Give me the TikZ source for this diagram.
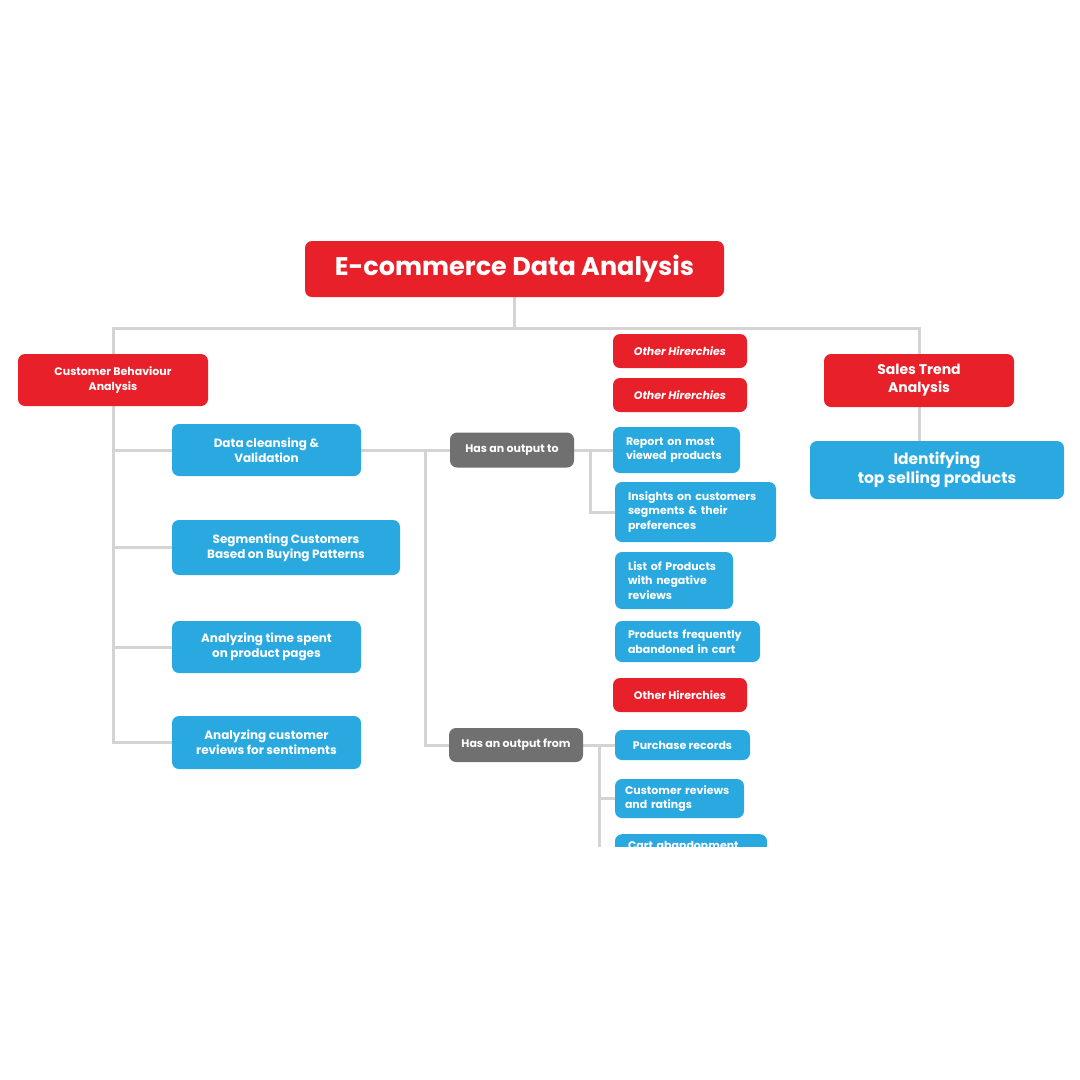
\documentclass[tikz,border=0pt]{standalone}
\usepackage{fontspec}
\setmainfont{Poppins}
\usetikzlibrary{backgrounds}
\definecolor{myred}{HTML}{E8202A}
\definecolor{myblue}{HTML}{29A9E0}
\definecolor{mygray}{HTML}{707070}
\definecolor{linegray}{HTML}{D4D4D4}
\newcommand\myfs[2]{\fontsize{#1}{#2}\selectfont}
\tikzset{
  basebox/.style={rectangle, rounded corners=7pt, text=white, inner sep=0pt, align=center},
  redbox/.style={basebox, fill=myred},
  bluebox/.style={basebox, fill=myblue},
  graybox/.style={basebox, fill=mygray},
  leftbox/.style={bluebox, align=left, inner xsep=13pt, text width=#1},
  conn/.style={draw=linegray, line width=3pt},
  smalltext/.style={font=\bfseries\myfs{11}{14.5}},
  midtext/.style={font=\bfseries\myfs{12}{15}},
}
\begin{document}
\begin{tikzpicture}[x=1pt,y=-1pt]
\useasboundingbox (0,0) rectangle (1080,1080);
\begin{scope}
\clip (0,0) rectangle (1080,846);
% nodes
\node[redbox, minimum width=419, minimum height=56, font=\bfseries\myfs{25.5}{30}] (title) at (514.5,269) {E-commerce Data Analysis};
\node[redbox, minimum width=190, minimum height=52, smalltext] (cba) at (113,380) {Customer Behaviour\\Analysis};
\node[redbox, minimum width=190, minimum height=53, font=\bfseries\myfs{14}{18}] (sales) at (919,380.5) {Sales Trend\\Analysis};
\node[bluebox, minimum width=254, minimum height=58, font=\bfseries\myfs{15.5}{19}] (ident) at (937,470) {Identifying\\top selling products};
\node[bluebox, minimum width=189, minimum height=52, midtext] (dc) at (266.5,450) {Data cleansing \&\\Validation};
\node[bluebox, minimum width=228, minimum height=55, midtext] (seg) at (286,547.5) {Segmenting Customers\\Based on Buying Patterns};
\node[bluebox, minimum width=189, minimum height=52, midtext] (ats) at (266.5,647) {Analyzing time spent\\on product pages};
\node[bluebox, minimum width=189, minimum height=53, midtext] (acr) at (266.5,742.5) {Analyzing customer\\reviews for sentiments};
\node[graybox, minimum width=124, minimum height=35, smalltext] (hot) at (512,450) {Has an output to};
\node[graybox, minimum width=134, minimum height=34, smalltext] (hof) at (516,745) {Has an output from};
\node[redbox, minimum width=134, minimum height=34, font=\bfseries\itshape\myfs{11}{14}] (oh1) at (680,351) {Other Hirerchies};
\node[redbox, minimum width=134, minimum height=34, font=\bfseries\itshape\myfs{11}{14}] (oh2) at (680,395) {Other Hirerchies};
\node[leftbox=101pt, minimum height=46, smalltext] (report) at (676.5,450) {Report on most\\viewed products};
\node[leftbox=135pt, minimum height=60, smalltext] (insights) at (695.5,512) {Insights on customers\\segments \& their\\preferences};
\node[leftbox=92pt, minimum height=57, smalltext] (list) at (674,580.5) {List of Products\\with negative\\reviews};
\node[leftbox=119pt, minimum height=41, smalltext] (freq) at (687.5,641.5) {Products frequently\\abandoned in cart};
\node[redbox, minimum width=134, minimum height=34, smalltext] (oh3) at (680,695) {Other Hirerchies};
\node[bluebox, minimum width=135, minimum height=30, smalltext] (purch) at (682.5,745) {Purchase records};
\node[leftbox=109pt, inner xsep=10pt, minimum height=39, smalltext] (crev) at (679.5,798.5) {\hbox{Customer reviews}\\and ratings};
\node[leftbox=126pt, anchor=north, inner ysep=7pt, text depth=24pt, smalltext] (cart) at (691,834) {Cart abandonment};
% junctions
\coordinate (hub) at (514.5,328);
\coordinate (j1) at (425,450);
\coordinate (j2) at (590,450);
\coordinate (j3) at (599,745);
\end{scope}
\begin{scope}[on background layer]
\clip (0,0) rectangle (1080,846);
\draw[conn] (title.south) -- (hub);
\draw[conn] (hub) -| (cba.north);
\draw[conn] (hub) -| (sales.north);
\draw[conn] (sales.south) -- (sales.south |- ident.north);
\draw[conn] (cba.south) |- (dc.west);
\draw[conn] (cba.south) |- (seg.west);
\draw[conn] (cba.south) |- (ats.west);
\draw[conn] (cba.south) |- (acr.west);
\draw[conn] (dc.east) -- (hot.west);
\draw[conn] (j1) |- (hof.west);
\draw[conn] (hot.east) -- (report.west);
\draw[conn] (j2) |- (insights.west);
\draw[conn] (hof.east) -- (purch.west);
\draw[conn] (j3) |- (crev.west);
\draw[conn] (j3) |- (cart.west);
\end{scope}
\end{tikzpicture}
\end{document}
